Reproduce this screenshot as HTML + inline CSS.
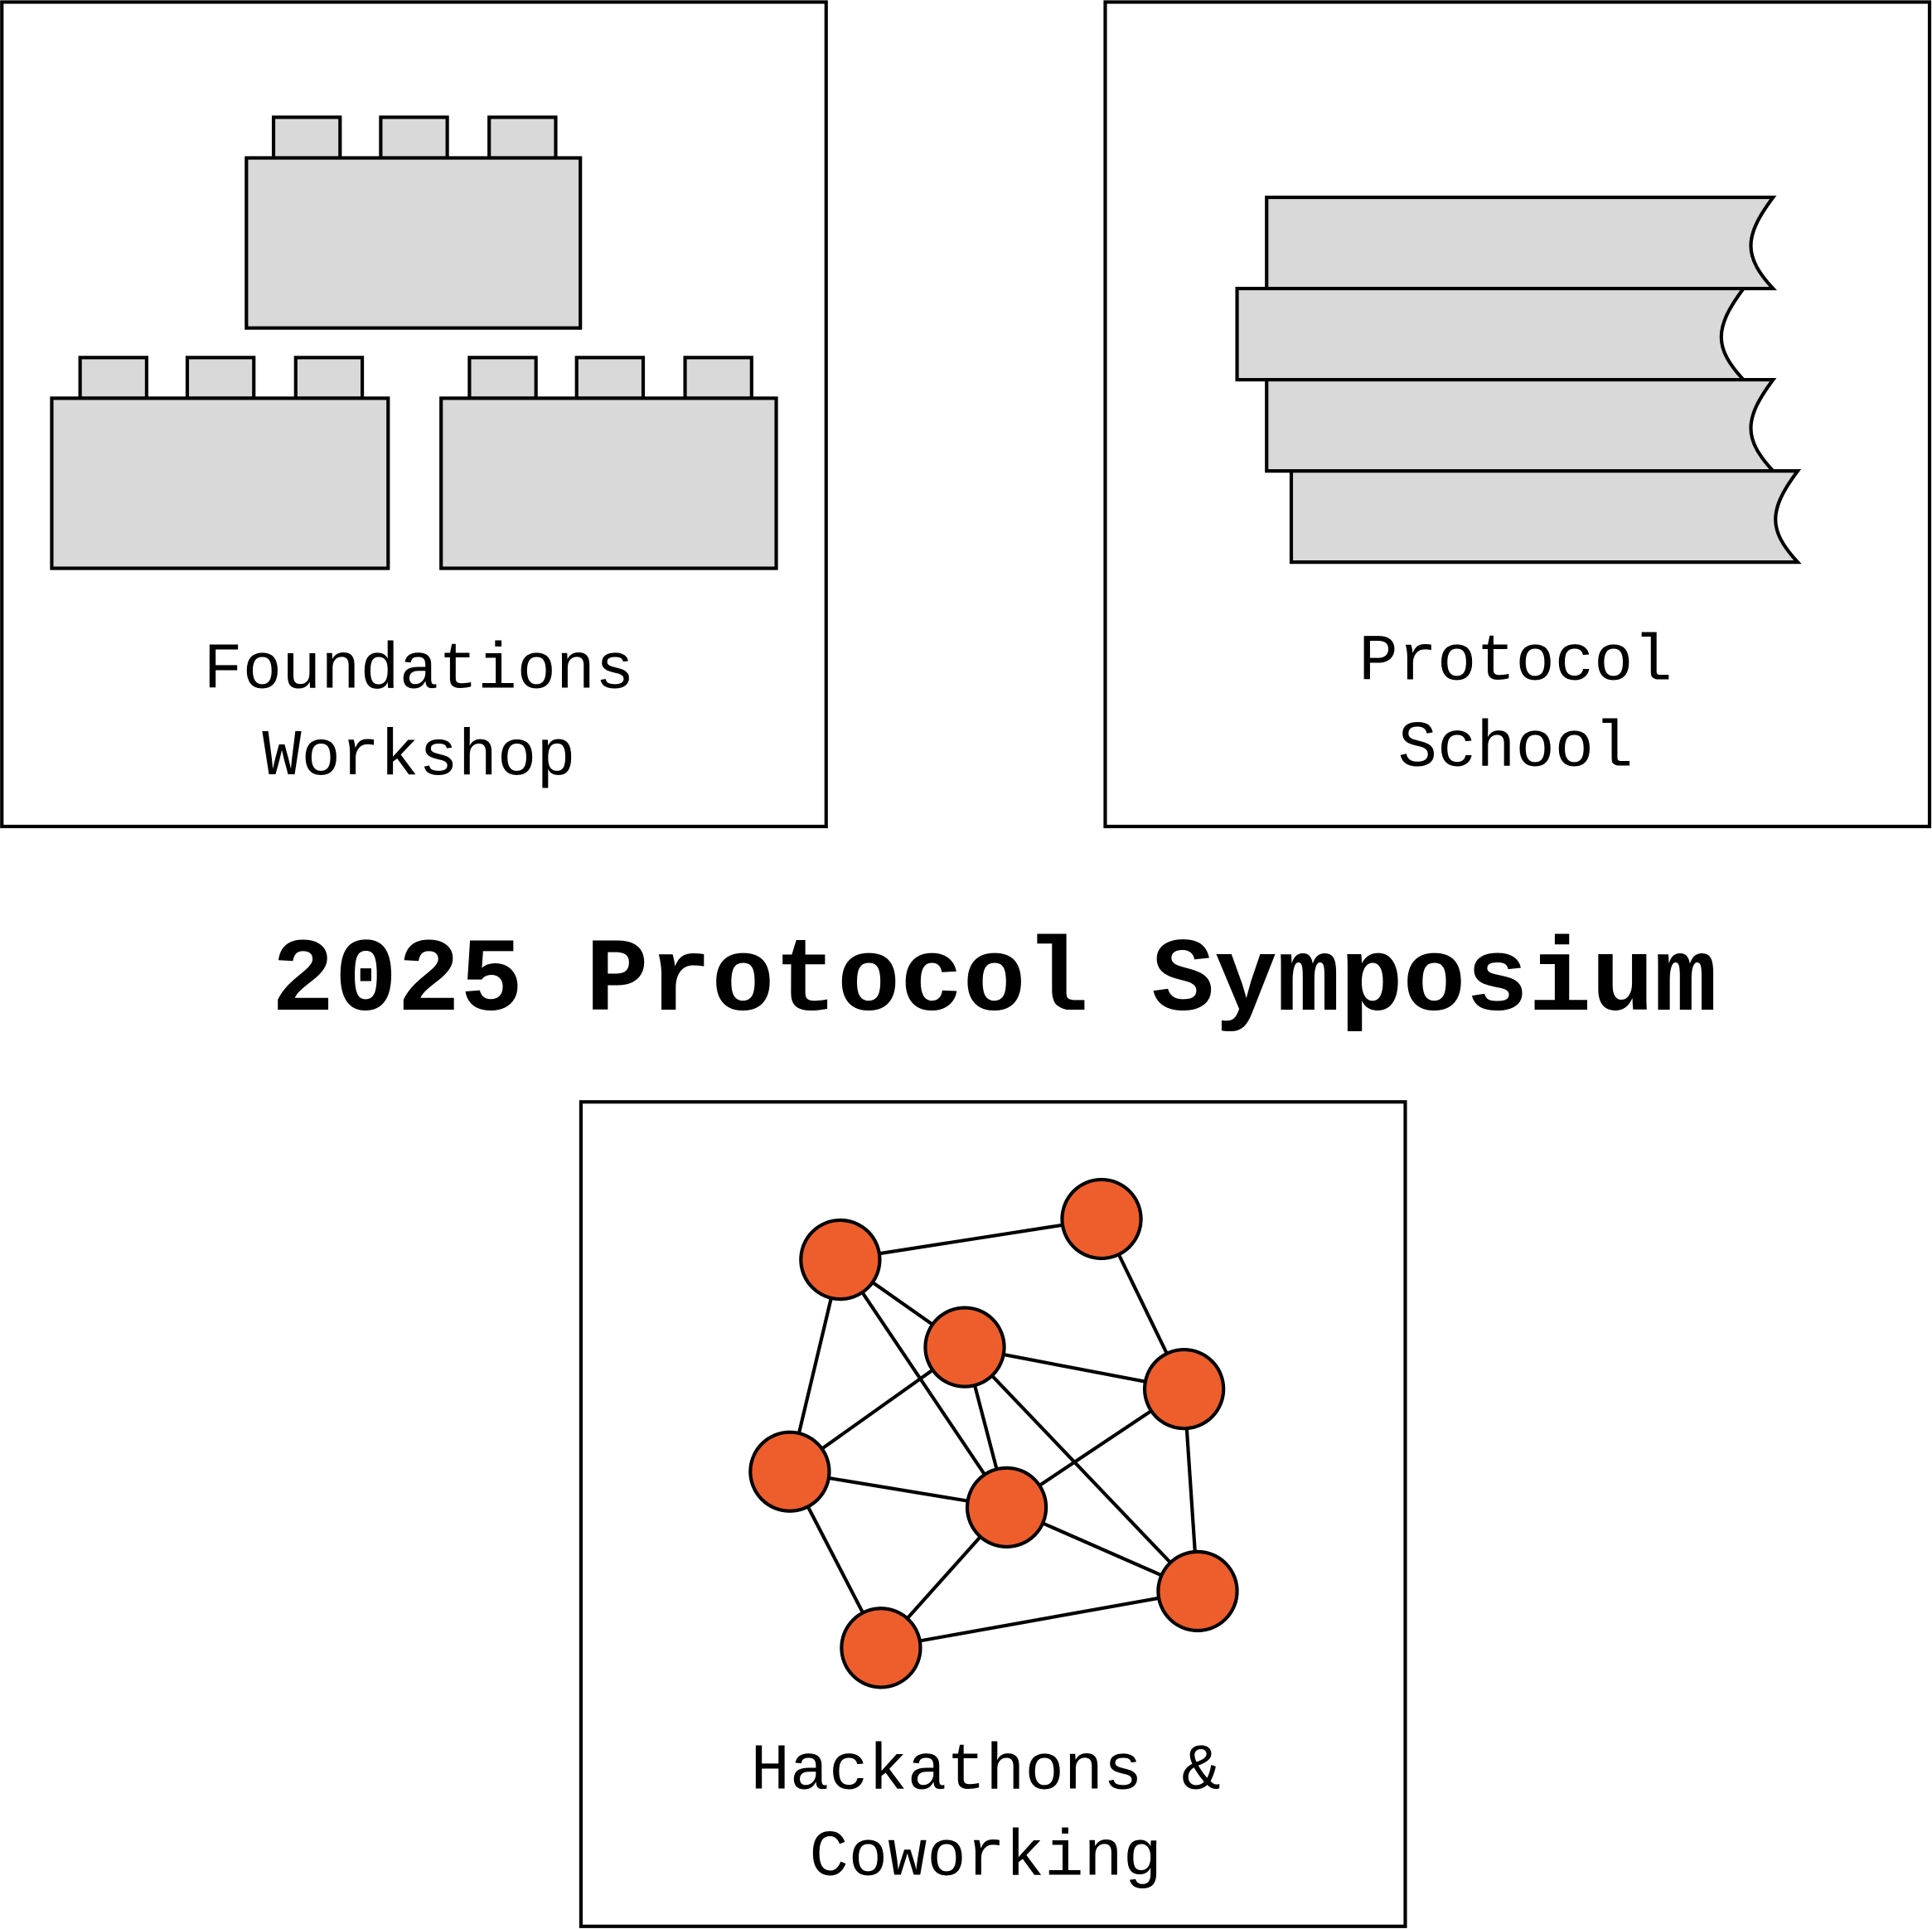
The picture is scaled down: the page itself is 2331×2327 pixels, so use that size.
<!DOCTYPE html>
<html><head><meta charset="utf-8"><style>html,body{margin:0;padding:0;background:#fff}svg{display:block}</style></head>
<body>
<svg width="2331" height="2327" viewBox="0 0 1568 1565" xmlns="http://www.w3.org/2000/svg">
<g fill="none" stroke="#000" stroke-width="2.8">
<rect x="1.5" y="1.5" width="669" height="669" fill="#fff"/>
<rect x="897" y="1.5" width="669" height="669" fill="#fff"/>
<rect x="471.5" y="894" width="669" height="669" fill="#fff"/>
</g>
<g fill="#d9d9d9" stroke="#000" stroke-width="2.8">
<rect x="222" y="95" width="54" height="33"/><rect x="309" y="95" width="54" height="33"/><rect x="397" y="95" width="54" height="33"/>
<rect x="200" y="128" width="271" height="138"/>
<rect x="65" y="290" width="54" height="33"/><rect x="152" y="290" width="54" height="33"/><rect x="240" y="290" width="54" height="33"/>
<rect x="42" y="323" width="273" height="138"/>
<rect x="381" y="290" width="54" height="33"/><rect x="468" y="290" width="54" height="33"/><rect x="556" y="290" width="54" height="33"/>
<rect x="358" y="323" width="272" height="138"/>
<path d="M1028,160 L1439,160 C1415,192 1415,208 1439,234 L1028,234 Z"/>
<path d="M1004,234 L1415,234 C1391,266 1391,282 1415,308 L1004,308 Z"/>
<path d="M1028,308 L1439,308 C1415,340 1415,356 1439,382 L1028,382 Z"/>
<path d="M1048,382 L1459,382 C1435,414 1435,430 1459,456 L1048,456 Z"/>
</g>
<g font-family="'Liberation Mono', monospace" font-size="53" text-anchor="middle" fill="#000">
<text x="340" y="558">Foundations</text>
<text x="340" y="628">Workshop</text>
<text x="1230" y="551">Protocol</text>
<text x="1230" y="621">School</text>
<text x="800" y="1451">Hackathons &amp;</text>
<text x="800" y="1521">Coworking</text>
</g>
<text x="807" y="819" font-family="'Liberation Mono', monospace" font-size="85" font-weight="bold" text-anchor="middle">2025 Protocol Symposium</text>
<g stroke="#000" stroke-width="2.8">
<line x1="682" y1="1022" x2="894" y2="989"/>
<line x1="894" y1="989" x2="961" y2="1127"/>
<line x1="682" y1="1022" x2="783" y2="1093"/>
<line x1="682" y1="1022" x2="817" y2="1223"/>
<line x1="682" y1="1022" x2="641" y2="1194"/>
<line x1="783" y1="1093" x2="961" y2="1127"/>
<line x1="783" y1="1093" x2="641" y2="1194"/>
<line x1="783" y1="1093" x2="817" y2="1223"/>
<line x1="783" y1="1093" x2="972" y2="1291"/>
<line x1="961" y1="1127" x2="817" y2="1223"/>
<line x1="961" y1="1127" x2="972" y2="1291"/>
<line x1="641" y1="1194" x2="817" y2="1223"/>
<line x1="641" y1="1194" x2="715" y2="1337"/>
<line x1="817" y1="1223" x2="715" y2="1337"/>
<line x1="817" y1="1223" x2="972" y2="1291"/>
<line x1="715" y1="1337" x2="972" y2="1291"/>
</g>
<g fill="#ee5e2c" stroke="#000" stroke-width="2.8">
<circle cx="682" cy="1022" r="32"/><circle cx="894" cy="989" r="32"/>
<circle cx="783" cy="1093" r="32"/><circle cx="961" cy="1127" r="32"/>
<circle cx="641" cy="1194" r="32"/><circle cx="817" cy="1223" r="32"/>
<circle cx="972" cy="1291" r="32"/><circle cx="715" cy="1337" r="32"/>
</g>
</svg>
</body></html>
